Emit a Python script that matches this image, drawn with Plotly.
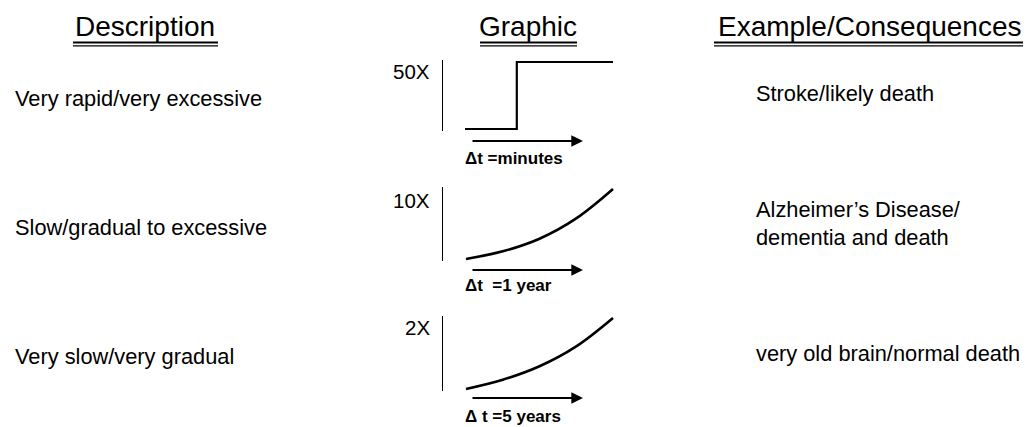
import plotly.graph_objects as go

W, H = 1028, 427

# ---------------- data ----------------
headers = ["Description", "Graphic", "Example/Consequences"]
descriptions = ["Very rapid/very excessive", "Slow/gradual to excessive", "Very slow/very gradual"]
magnitudes = ["50X", "10X", "2X"]
time_labels = ["\u0394t =minutes", "\u0394t  =1 year", "\u0394 t =5 years"]
consequences = ["Stroke/likely death",
                "Alzheimer\u2019s Disease/<br>dementia and death",
                "very old brain/normal death"]

# normalised time (0..1) and normalised level (0..1) of the three sketches
step_t = [0, 0.35, 0.35, 1]
step_level = [0, 0, 1, 1]
slow_t = [0, 0.25, 0.5, 0.75, 1]
slow_level = [0, 0.11, 0.29, 0.58, 1]
vslow_t = [0, 0.25, 0.5, 0.75, 1]
vslow_level = [0, 0.13, 0.32, 0.60, 1]

series = [(step_t, step_level, "linear", 2.2),
          (slow_t, slow_level, "spline", 2.6),
          (vslow_t, vslow_level, "spline", 2.6)]

# ---------------- layout helpers (pixel -> paper) ----------------
def px(x):
    return x / W

def py(y):
    return 1 - y / H

FONT = "Arial, Liberation Sans, sans-serif"

# pixel boxes of each sketch: (left, right, top, bottom)
boxes = [(465, 613, 62, 129), (466, 613, 189, 259), (466, 613, 318, 389)]
axis_x = 442
row_center = [98, 227, 356]
label_y = [72, 200, 327]
arrow_y = [141, 270, 398]
tlabel_y = [158, 285, 416]
cons_y = [93, 223.5, 353]

PAD = 0.03

fig = go.Figure()
layout = dict(
    width=W, height=H,
    margin=dict(l=0, r=0, t=0, b=0),
    paper_bgcolor="white", plot_bgcolor="rgba(0,0,0,0)",
    showlegend=False,
)

for i, ((t, lv, shape, lw), (x0, x1, yt, yb)) in enumerate(zip(series, boxes)):
    n = i + 1
    xa = "xaxis" if n == 1 else f"xaxis{n}"
    ya = "yaxis" if n == 1 else f"yaxis{n}"
    xr = "x" if n == 1 else f"x{n}"
    yr = "y" if n == 1 else f"y{n}"
    w, h = x1 - x0, yb - yt
    fig.add_trace(go.Scatter(x=t, y=lv, mode="lines", xaxis=xr, yaxis=yr,
                             line=dict(color="black", width=lw, shape=shape, smoothing=1.0),
                             hoverinfo="skip"))
    layout[xa] = dict(domain=[px(x0 - PAD * w), px(x1 + PAD * w)], range=[-PAD, 1 + PAD],
                      visible=False, anchor=yr, fixedrange=True)
    layout[ya] = dict(domain=[py(yb + PAD * h), py(yt - PAD * h)], range=[-PAD, 1 + PAD],
                      showline=True, linecolor="black", linewidth=1.3,
                      showticklabels=False, ticks="", showgrid=False, zeroline=False,
                      anchor="free", position=px(axis_x), fixedrange=True)

annotations = []
shapes = []

# headers with double underline
header_x = [145, 528, 870]
underline = [(73, 218), (480, 577), (714, 1023)]
for txt, hx, (u0, u1) in zip(headers, header_x, underline):
    annotations.append(dict(text=txt, x=px(hx), y=py(27), xref="paper", yref="paper",
                            xanchor="center", yanchor="middle", showarrow=False,
                            font=dict(family=FONT, size=28, color="black")))
    shapes.append(dict(type="line", xref="paper", yref="paper", x0=px(u0), x1=px(u1),
                       y0=py(42.5), y1=py(42.5), line=dict(color="black", width=2)))
    shapes.append(dict(type="line", xref="paper", yref="paper", x0=px(u0), x1=px(u1),
                       y0=py(45.8), y1=py(45.8), line=dict(color="black", width=1.2)))

for i in range(3):
    annotations.append(dict(text=descriptions[i], x=px(13), y=py(row_center[i]),
                            xref="paper", yref="paper", xanchor="left", yanchor="middle",
                            showarrow=False, font=dict(family=FONT, size=21.8, color="black")))
    annotations.append(dict(text=magnitudes[i], x=px(432), y=py(label_y[i]),
                            xref="paper", yref="paper", xanchor="right", yanchor="middle",
                            showarrow=False, font=dict(family=FONT, size=20.5, color="black")))
    # time arrow
    annotations.append(dict(text="", x=px(583), y=py(arrow_y[i]), xref="paper", yref="paper",
                            ax=-112, ay=0, axref="pixel", ayref="pixel", showarrow=True,
                            arrowhead=2, arrowsize=1.3, arrowwidth=1.8, arrowcolor="black"))
    annotations.append(dict(text="<b>" + time_labels[i] + "</b>", x=px(463), y=py(tlabel_y[i]),
                            xref="paper", yref="paper", xanchor="left", yanchor="middle",
                            showarrow=False, font=dict(family=FONT, size=17, color="black")))
    annotations.append(dict(text=consequences[i], x=px(754), y=py(cons_y[i]),
                            xref="paper", yref="paper", xanchor="left", yanchor="middle",
                            align="left", showarrow=False,
                            font=dict(family=FONT, size=21.8, color="black")))

layout["annotations"] = annotations
layout["shapes"] = shapes
fig.update_layout(**layout)
fig.write_html("out.html", config={"displayModeBar": False},
               post_script="document.body.style.margin='0';document.body.style.overflow='hidden';")
